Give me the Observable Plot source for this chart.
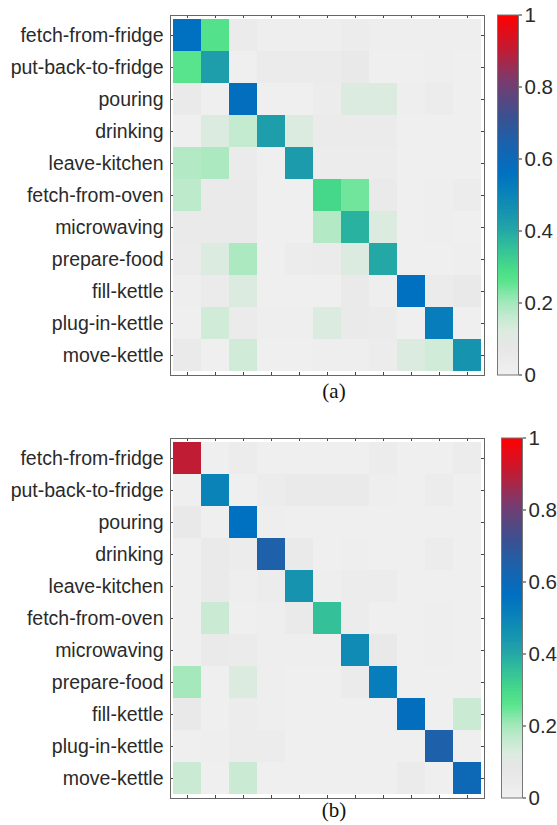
<!DOCTYPE html>
<html><head><meta charset="utf-8">
<script src="https://cdn.jsdelivr.net/npm/d3@7"></script>
<script src="https://cdn.jsdelivr.net/npm/@observablehq/plot@0.6"></script>
<style>
body{margin:0;background:#fff;}
#fig{position:relative;width:557px;height:825px;overflow:hidden;}
.pan{position:absolute;}
.cap{position:absolute;font-family:"Liberation Serif","Times New Roman",serif;font-size:21px;color:#111;transform:translate(-50%,-50%);white-space:nowrap;}
</style></head><body><div id="fig"></div>
<script>
const activities = ["fetch-from-fridge","put-back-to-fridge","pouring","drinking","leave-kitchen","fetch-from-oven","microwaving","prepare-food","fill-kettle","plug-in-kettle","move-kettle"];

// rows = true activity, columns = predicted activity
const matrixA = [
  [0.56,0.27,0.04,0.02,0.02,0.02,0.03,0.02,0.02,0.02,0.02],
  [0.26,0.42,0.01,0.04,0.04,0.04,0.06,0.01,0.01,0.02,0.01],
  [0.05,0.01,0.57,0.01,0.01,0.03,0.12,0.12,0.02,0.03,0.01],
  [0.01,0.12,0.16,0.42,0.12,0.04,0.04,0.04,0.01,0.01,0.01],
  [0.18,0.19,0.04,0.01,0.43,0.03,0.03,0.03,0.01,0.01,0.01],
  [0.17,0.05,0.05,0.01,0.01,0.30,0.24,0.05,0.01,0.02,0.03],
  [0.05,0.05,0.05,0.01,0.01,0.18,0.38,0.12,0.01,0.02,0.01],
  [0.04,0.12,0.19,0.01,0.03,0.04,0.12,0.40,0.01,0.01,0.02],
  [0.02,0.04,0.12,0.01,0.01,0.01,0.05,0.02,0.56,0.04,0.06],
  [0.01,0.14,0.04,0.02,0.02,0.12,0.05,0.04,0.01,0.52,0.01],
  [0.05,0.01,0.14,0.01,0.01,0.02,0.02,0.03,0.12,0.14,0.45]
];
const matrixB = [
  [0.90,0.01,0.03,0.01,0.01,0.01,0.01,0.03,0.01,0.01,0.03],
  [0.01,0.50,0.01,0.03,0.05,0.05,0.05,0.02,0.01,0.03,0.01],
  [0.06,0.01,0.56,0.02,0.01,0.01,0.01,0.01,0.01,0.01,0.01],
  [0.01,0.05,0.03,0.65,0.05,0.01,0.02,0.01,0.01,0.03,0.01],
  [0.01,0.05,0.02,0.03,0.45,0.02,0.03,0.03,0.01,0.01,0.01],
  [0.01,0.15,0.01,0.02,0.05,0.35,0.03,0.01,0.01,0.02,0.01],
  [0.01,0.05,0.04,0.02,0.02,0.02,0.48,0.06,0.01,0.02,0.01],
  [0.20,0.01,0.12,0.02,0.01,0.01,0.04,0.52,0.01,0.01,0.01],
  [0.06,0.01,0.03,0.02,0.01,0.01,0.01,0.01,0.57,0.01,0.15],
  [0.01,0.02,0.03,0.03,0.01,0.01,0.01,0.01,0.01,0.65,0.01],
  [0.15,0.01,0.15,0.01,0.01,0.01,0.01,0.01,0.04,0.01,0.60]
];
const colorTicks = [0,0.2,0.4,0.6,0.8,1];
const captions = ["(a)","(b)"];

// colormap (piecewise)
const cmapDomain = [0,0.08,0.12,0.16,0.2,0.26,0.3,0.36,0.42,0.5,0.56,0.64,0.72,0.82,0.9,1];
const cmapRange = ["#f0f0f0","#e6e6e6","#dcebe0","#c4ead0","#a4e8bc","#58e48c","#46d88a","#30bc9c","#1e9eaa","#0a84b8","#0070c0","#1a62ac","#3c5090","#7c3a6c","#c01c34","#ff0000"];
const colorScale = {type:"linear", domain: cmapDomain, range: cmapRange, interpolate:"rgb"};

const fig = document.getElementById("fig");
const font = {fontSize:"19.5px", fontFamily:"'Liberation Sans',Arial,sans-serif", color:"#2a2a2a", background:"transparent"};

const layouts = [
  {top:0, cbLeft:480, capX:334, capY:391},
  {top:423, cbLeft:484, capX:334, capY:810}
];

[matrixA, matrixB].forEach((M, k) => {
  const L = layouts[k];
  const data = M.flatMap((row, i) => row.map((v, j) => ({truth: activities[i], pred: activities[j], v})));
  const W = 490, H = 377, mL = 170, mR = 6, mT = 15, mB = 2;
  const iw = W - mL - mR, ih = H - mT - mB;
  const p = Plot.plot({
    width: W, height: H, marginLeft: mL, marginRight: mR, marginTop: mT, marginBottom: mB,
    style: font,
    x: {domain: activities, padding: 0, axis: null},
    y: {domain: activities, padding: 0, axis: null},
    color: colorScale,
    marks: [
      Plot.cell(data, {x: "pred", y: "truth", fill: "v", inset: 0}),
      Plot.axisY({anchor: "left", tickSize: 0, tickPadding: 7, fontSize: 19.5, label: null}),
      Plot.tickX(activities, {x: d => d, insetTop: ih - 3, stroke: "#444"}),
      Plot.tickX(activities, {x: d => d, insetBottom: ih - 3, stroke: "#444"}),
      Plot.tickY(activities, {y: d => d, insetRight: iw - 3, stroke: "#444"}),
      Plot.tickY(activities, {y: d => d, insetLeft: iw - 3, stroke: "#444"}),
      Plot.frame({stroke: "#666"})
    ]
  });
  p.classList.add("pan");
  p.style.left = "0px"; p.style.top = L.top + "px";
  fig.appendChild(p);

  const step = 0.004;
  const steps = d3.range(0, 1, step);
  const extra = 14;
  const cb = Plot.plot({
    width: 77, height: H + extra, marginLeft: 17, marginRight: 39, marginTop: mT - 0.5, marginBottom: mB + 0.5 + extra,
    style: font,
    x: {axis: null},
    y: {domain: [0, 1], axis: null},
    color: colorScale,
    marks: [
      Plot.rect(steps, {y1: d => d, y2: d => Math.min(1, d + step * 1.6), fill: d => d + step / 2, shapeRendering: "crispEdges"}),
      Plot.axisY(colorTicks, {anchor: "right", tickSize: 3, tickPadding: 3, fontSize: 20.5, label: null, tickFormat: d => d3.format("~g")(d)}),
      Plot.frame({stroke: "#777"})
    ]
  });
  cb.classList.add("pan");
  cb.style.left = L.cbLeft + "px"; cb.style.top = L.top + "px";
  fig.appendChild(cb);

  const cap = document.createElement("div");
  cap.className = "cap";
  cap.textContent = captions[k];
  cap.style.left = L.capX + "px"; cap.style.top = L.capY + "px";
  fig.appendChild(cap);
});
</script>
</body></html>
